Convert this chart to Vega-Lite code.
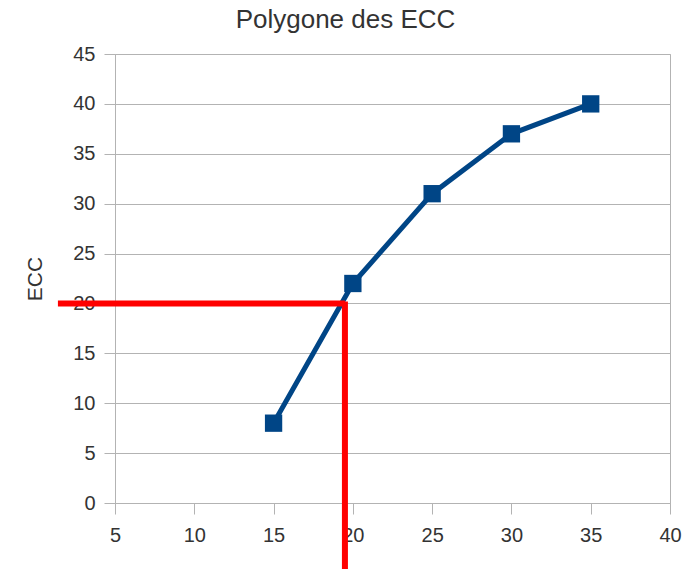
{
  "$schema": "https://vega.github.io/schema/vega-lite/v6.json",
  "autosize": "none",
  "width": 555,
  "height": 449,
  "padding": {"left": 115, "top": 54, "right": 23, "bottom": 66},
  "background": "white",
  "config": {
    "font": "Liberation Sans",
    "view": {"stroke": "#b3b3b3", "strokeWidth": 1}
  },
  "title": {
    "text": "Polygone des ECC",
    "fontSize": 26,
    "fontWeight": "normal",
    "color": "#333333",
    "offset": 11,
    "dx": -47,
    "anchor": "middle"
  },
  "datasets": {
    "ecc": [
      {"classe": 15, "ecc": 8},
      {"classe": 20, "ecc": 22},
      {"classe": 25, "ecc": 31},
      {"classe": 30, "ecc": 37},
      {"classe": 35, "ecc": 40}
    ],
    "lecture": [
      {"x": 1.4, "y": 20, "x2": 19.5, "y2": 20},
      {"x": 19.5, "y": 20.2, "x2": 19.5, "y2": -8}
    ]
  },
  "layer": [
    {
      "data": {"name": "ecc"},
      "mark": {"type": "line", "color": "#004586", "strokeWidth": 5, "point": {"shape": "square", "size": 300, "filled": true, "color": "#004586", "opacity": 1}},
      "encoding": {
        "x": {
          "field": "classe", "type": "quantitative",
          "scale": {"domain": [5, 40], "nice": false, "zero": false},
          "axis": {
            "title": null, "values": [5, 10, 15, 20, 25, 30, 35, 40], "grid": false,
            "labelFlush": false, "labelOverlap": false,
            "domainColor": "#b3b3b3", "tickColor": "#b3b3b3", "tickSize": 11,
            "labelFontSize": 20, "labelColor": "#333333", "labelPadding": 11
          }
        },
        "y": {
          "field": "ecc", "type": "quantitative",
          "scale": {"domain": [0, 45], "nice": false},
          "axis": {
            "title": "ECC", "titleFontSize": 21, "titleFontWeight": "normal", "titleColor": "#333333", "titlePadding": 27,
            "values": [0, 5, 10, 15, 20, 25, 30, 35, 40, 45], "grid": true, "gridColor": "#b3b3b3",
            "labelFlush": false, "labelOverlap": false,
            "domainColor": "#b3b3b3", "tickColor": "#b3b3b3", "tickSize": 11,
            "labelFontSize": 20, "labelColor": "#333333", "labelPadding": 9
          }
        }
      }
    },
    {
      "data": {"name": "lecture"},
      "mark": {"type": "rule", "color": "#ff0000", "strokeWidth": 6},
      "encoding": {
        "x": {"field": "x", "type": "quantitative"},
        "x2": {"field": "x2"},
        "y": {"field": "y", "type": "quantitative"},
        "y2": {"field": "y2"}
      }
    }
  ]
}
